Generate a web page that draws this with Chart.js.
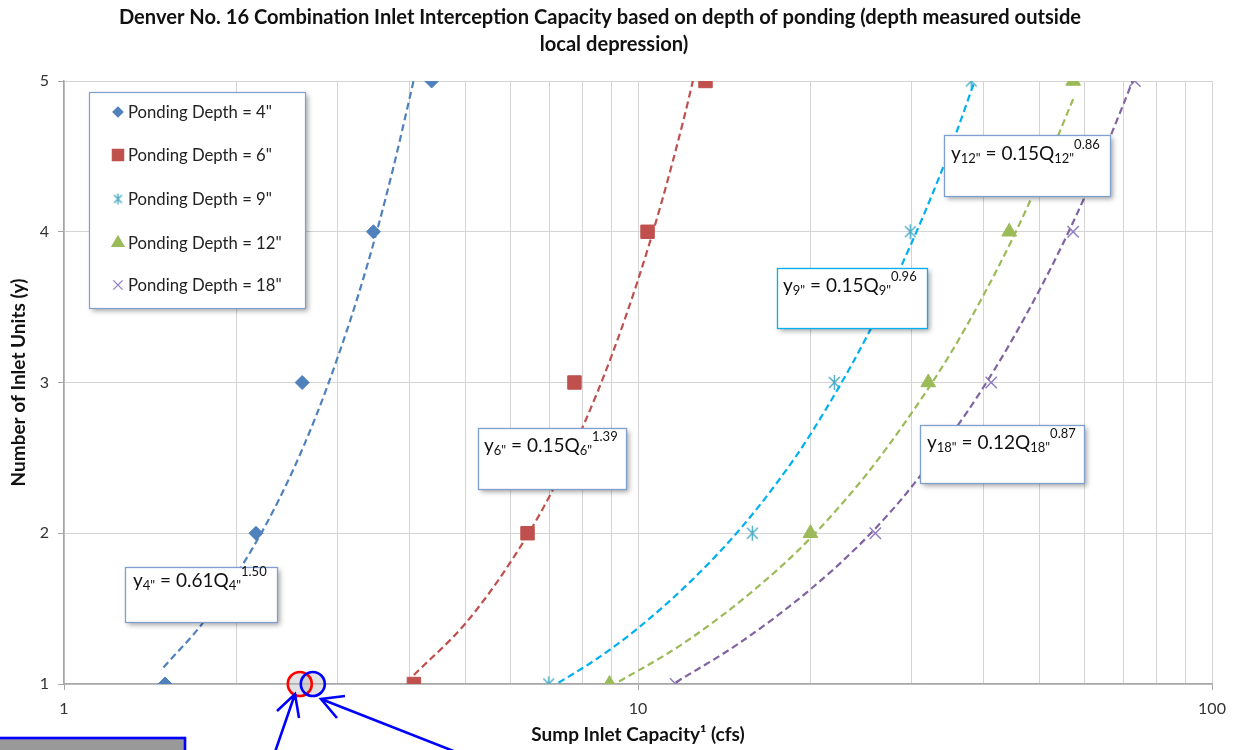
<!DOCTYPE html>
<html><head><meta charset="utf-8">
<script src="https://cdn.jsdelivr.net/npm/chart.js@4/dist/chart.umd.min.js"></script>
<style>html,body{margin:0;padding:0;background:#fff;overflow:hidden}</style>
</head><body>
<canvas id="c" width="1235" height="750"></canvas>
<script>
// ---------- data ----------
const titleLines = ['Denver No. 16 Combination Inlet Interception Capacity based on depth of ponding (depth measured outside', 'local depression)'];
const xTitle = 'Sump Inlet Capacity\u00B9 (cfs)';
const yTitle = 'Number of Inlet Units (y)';
const seriesNames = ['Ponding Depth = 4"', 'Ponding Depth = 6"', 'Ponding Depth = 9"', 'Ponding Depth = 12"', 'Ponding Depth = 18"'];
const unitsY = [1, 2, 3, 4, 5];
const q4 = [1.50, 2.16, 2.60, 3.46, 4.37];
const q6 = [4.07, 6.42, 7.75, 10.39, 13.11];
const q9 = [6.99, 15.82, 21.98, 29.81, 38.07];
const q12 = [8.92, 19.97, 32.04, 44.33, 57.3];
const q18 = [11.63, 25.91, 41.24, 57.3, 73.4];
// trendlines
const t4Q = [1.49, 1.75, 2.0, 2.25, 2.5, 2.75, 3.0, 3.25, 3.5, 3.75, 4.07];
const t4Y = [1.11, 1.41, 1.73, 2.06, 2.41, 2.78, 3.17, 3.57, 3.99, 4.43, 5.01];
const t6Q = [4.07, 5, 6, 7, 8, 9, 10, 11, 12, 12.5];
const t6Y = [1.06, 1.40, 1.81, 2.24, 2.70, 3.18, 3.68, 4.20, 4.74, 5.02];
const t9Q = [7.0, 8.5, 10, 12.5, 15, 17.5, 20, 25, 30, 35, 38.6];
const t9Y = [0.97, 1.17, 1.37, 1.70, 2.02, 2.34, 2.66, 3.30, 3.93, 4.55, 5.0];
const t12Q = [8.92, 12, 16, 20, 25, 30, 35, 40, 45, 50, 57.3];
const t12Y = [0.98, 1.27, 1.63, 1.97, 2.39, 2.80, 3.19, 3.58, 3.96, 4.34, 4.88];
const t18Q = [11.63, 15, 20, 25, 30, 40, 50, 60, 70, 73.4];
const t18Y = [1.01, 1.27, 1.63, 1.97, 2.31, 2.97, 3.61, 4.23, 4.84, 5.04];
const eqSub = ['4"', '6"', '9"', '12"', '18"'];
const eqCoef = ['0.61', '0.15', '0.15', '0.15', '0.12'];
const eqExp = ['1.50', '1.39', '0.96', '0.86', '0.87'];
const xTickValues = [1,2,3,4,5,6,7,8,9,10,20,30,40,50,60,70,80,90,100];
const xTickLabels = [1, 10, 100];
const yTickValues = [1, 2, 3, 4, 5];
// annotation markers (circles) on the x axis
const markQ = [2.575, 2.713];

// ---------- styles ----------
const FONT = 'Lato, "Open Sans", sans-serif';
const markerColors = ['#4f81bd', '#c0504d', '#4bacc6', '#9bbb59', '#8e7cc3'];
const lineColors = ['#4f81bd', '#c0504d', '#00b0f0', '#9bbb59', '#8064a2'];

function makeAsterisk(color, size) {
  const c = document.createElement('canvas');
  c.width = size; c.height = size;
  const g = c.getContext('2d');
  g.strokeStyle = color; g.lineWidth = 1.4;
  const m = size / 2, r = size / 2 - 1, d = r * 0.72;
  g.beginPath();
  g.moveTo(m, m - r); g.lineTo(m, m + r);
  g.moveTo(m - d, m - d); g.lineTo(m + d, m + d);
  g.moveTo(m + d, m - d); g.lineTo(m - d, m + d);
  g.stroke();
  return c;
}
const asterBig = makeAsterisk('#4bacc6', 17);
const asterSmall = makeAsterisk('#4bacc6', 13);

const pointDefs = [
  {pointStyle: 'rectRot', radius: 7, legendRadius: 5},
  {pointStyle: 'rect', radius: 9.5, legendRadius: 8},
  {pointStyle: asterBig, radius: 8, legend: asterSmall},
  {pointStyle: 'triangle', radius: 8.5, legendRadius: 7},
  {pointStyle: 'crossRot', radius: 8, legendRadius: 6.5}
];

const pts = (qs, ys) => qs.map((q, i) => ({x: q, y: ys[i]}));
const pointSets = [q4, q6, q9, q12, q18];
const trendSets = [[t4Q, t4Y], [t6Q, t6Y], [t9Q, t9Y], [t12Q, t12Y], [t18Q, t18Y]];

const datasets = [];
trendSets.forEach((t, i) => {
  datasets.push({
    label: 'trend ' + seriesNames[i], data: pts(t[0], t[1]), showLine: true,
    borderColor: lineColors[i], borderWidth: 2.2, borderDash: [7, 4],
    pointRadius: 0, pointHoverRadius: 0, cubicInterpolationMode: 'monotone', fill: false
  });
});
pointSets.forEach((q, i) => {
  const pd = pointDefs[i];
  datasets.push({
    label: seriesNames[i], data: pts(q, unitsY), showLine: false,
    pointStyle: pd.pointStyle, pointRadius: pd.radius, pointHoverRadius: pd.radius,
    backgroundColor: markerColors[i], borderColor: markerColors[i],
    pointBorderWidth: (i === 4 ? 1.5 : 1)
  });
});

const measureCtx = document.createElement('canvas').getContext('2d');
function fitSize(ctx, text, weight, target) {
  ctx.font = weight + ' 20px ' + FONT;
  return 20 * target / ctx.measureText(text).width;
}
const xTitleSize = Math.min(19, fitSize(measureCtx, xTitle, 'bold', 214));
const yTitleSize = xTitleSize;

const decor = {
  id: 'decor',
  afterDraw(chart) {
    const ctx = chart.ctx;
    const xs = chart.scales.x, ys = chart.scales.y;
    ctx.save();
    // title
    ctx.fillStyle = '#111';
    ctx.textAlign = 'center'; ctx.textBaseline = 'middle';
    const ts = fitSize(ctx, titleLines[0], 'bold', 962);
    ctx.font = 'bold ' + ts.toFixed(2) + 'px ' + FONT;
    ctx.fillText(titleLines[0], 600, 18);
    ctx.fillText(titleLines[1], 614, 45);

    // legend
    const lx = 89, ly = 92, lw = 216, lh = 216;
    ctx.save();
    ctx.shadowColor = 'rgba(0,0,0,0.35)'; ctx.shadowBlur = 5; ctx.shadowOffsetX = 3; ctx.shadowOffsetY = 3;
    ctx.fillStyle = '#fff'; ctx.fillRect(lx, ly, lw, lh);
    ctx.restore();
    ctx.strokeStyle = '#7f9fcf'; ctx.lineWidth = 1.2;
    ctx.strokeRect(lx + 0.5, ly + 0.5, lw, lh);
    const rowY = [112, 155, 199, 243, 285];
    ctx.textAlign = 'left'; ctx.textBaseline = 'middle';
    const ls = fitSize(ctx, seriesNames[0], 'normal', 144);
    ctx.font = ls.toFixed(2) + 'px ' + FONT;
    seriesNames.forEach((n, i) => {
      const pd = pointDefs[i];
      ctx.fillStyle = markerColors[i]; ctx.strokeStyle = markerColors[i];
      Chart.helpers.drawPoint(ctx, {pointStyle: pd.legend || pd.pointStyle, radius: pd.legend ? 6.5 : pd.legendRadius, borderWidth: i === 4 ? 1.3 : 1, rotation: 0}, 118, rowY[i]);
      ctx.fillStyle = '#222';
      ctx.fillText(n, 128, rowY[i] + 1);
    });

    // equation boxes
    const boxes = [
      {x: 125, y: 567, w: 152, h: 55, tx: 133, ty: 581, bc: '#7f9fcf'},
      {x: 478, y: 428, w: 148, h: 61, tx: 484, ty: 446, bc: '#7f9fcf'},
      {x: 777, y: 268, w: 150, h: 60, tx: 783, ty: 286, bc: '#00b0f0'},
      {x: 944, y: 135, w: 166, h: 61, tx: 951, ty: 154, bc: '#7f9fcf'},
      {x: 920, y: 425, w: 164, h: 58, tx: 927, ty: 443, bc: '#7f9fcf'}
    ];
    boxes.forEach((b, i) => {
      ctx.save();
      ctx.shadowColor = 'rgba(0,0,0,0.35)'; ctx.shadowBlur = 5; ctx.shadowOffsetX = 3; ctx.shadowOffsetY = 3;
      ctx.fillStyle = '#fff'; ctx.fillRect(b.x, b.y, b.w, b.h);
      ctx.restore();
      ctx.strokeStyle = b.bc; ctx.lineWidth = 1.3;
      ctx.strokeRect(b.x + 0.5, b.y + 0.5, b.w, b.h);
      const parts = [
        ['y', 19, 0], [eqSub[i], 13, 5], [' = ' + eqCoef[i] + 'Q', 19, 0], [eqSub[i], 13, 5], [eqExp[i], 13, -9]
      ];
      let x = b.tx;
      ctx.fillStyle = '#111'; ctx.textBaseline = 'middle'; ctx.textAlign = 'left';
      parts.forEach(p => {
        ctx.font = p[1] + 'px ' + FONT;
        ctx.fillText(p[0], x, b.ty + p[2]);
        x += ctx.measureText(p[0]).width;
      });
    });

    // circles on axis
    const cy = ys.getPixelForValue(1);
    const circColors = ['#ff0000', '#0000ff'];
    markQ.forEach((q) => {
      const cx = xs.getPixelForValue(q);
      ctx.beginPath(); ctx.arc(cx, cy, 12, 0, Math.PI * 2);
      ctx.fillStyle = 'rgba(190,190,190,0.45)'; ctx.fill();
    });
    markQ.forEach((q, i) => {
      const cx = xs.getPixelForValue(q);
      ctx.beginPath(); ctx.arc(cx, cy, 12, 0, Math.PI * 2);
      ctx.strokeStyle = circColors[i]; ctx.lineWidth = 2.6; ctx.stroke();
    });
    // arrows
    ctx.strokeStyle = '#0000ff'; ctx.lineWidth = 2.6; ctx.lineCap = 'butt';
    const arrows = [
      [[275, 752], [295, 694], [277, 711], [299, 718]],
      [[456, 752], [321, 699], [345, 696], [337, 718]]
    ];
    arrows.forEach(a => {
      ctx.beginPath();
      ctx.moveTo(a[0][0], a[0][1]); ctx.lineTo(a[1][0], a[1][1]);
      ctx.moveTo(a[2][0], a[2][1]); ctx.lineTo(a[1][0], a[1][1]); ctx.lineTo(a[3][0], a[3][1]);
      ctx.stroke();
    });
    // partial box bottom-left
    ctx.fillStyle = '#999999'; ctx.fillRect(0, 738, 185, 14);
    ctx.strokeStyle = '#0000ff'; ctx.lineWidth = 2.6;
    ctx.strokeRect(-2, 738, 187, 16);
    ctx.restore();
  }
};

new Chart(document.getElementById('c'), {
  type: 'scatter',
  data: {datasets},
  plugins: [decor],
  options: {
    responsive: false, animation: false, devicePixelRatio: 1,
    layout: {padding: {left: 0, right: 23, top: 81, bottom: 0}},
    plugins: {legend: {display: false}, title: {display: false}, tooltip: {enabled: false}},
    scales: {
      x: {
        type: 'logarithmic', min: 1, max: 100,
        afterFit: s => { s.height = 66; },
        afterBuildTicks: s => { s.ticks = xTickValues.map(v => ({value: v})); },
        ticks: {
          autoSkip: false, maxRotation: 0, padding: 9, color: '#333',
          font: {family: FONT, size: 16},
          callback: v => xTickLabels.includes(v) ? String(v) : ''
        },
        grid: {color: '#d4d4d4', lineWidth: 1, tickLength: 6,
          tickColor: c => (c.tick && xTickLabels.includes(c.tick.value)) ? '#a6a6a6' : 'rgba(0,0,0,0)'},
        border: {color: '#a6a6a6', width: 1.5},
        title: {display: true, text: xTitle, color: '#111', font: {family: FONT, size: xTitleSize, weight: 'bold'}, padding: {top: 0, bottom: 4}}
      },
      y: {
        min: 1, max: 5,
        afterFit: s => { s.width = 64; },
        afterBuildTicks: s => { s.ticks = yTickValues.map(v => ({value: v})); },
        ticks: {padding: 9, color: '#333', font: {family: FONT, size: 16}},
        grid: {color: '#d4d4d4', lineWidth: 1, tickLength: 6, tickColor: '#a6a6a6'},
        border: {color: '#a6a6a6', width: 1.5},
        title: {display: true, text: yTitle, color: '#111', font: {family: FONT, size: yTitleSize, weight: 'bold'}, padding: {top: 7, bottom: 0}}
      }
    }
  }
});
</script>
</body></html>
